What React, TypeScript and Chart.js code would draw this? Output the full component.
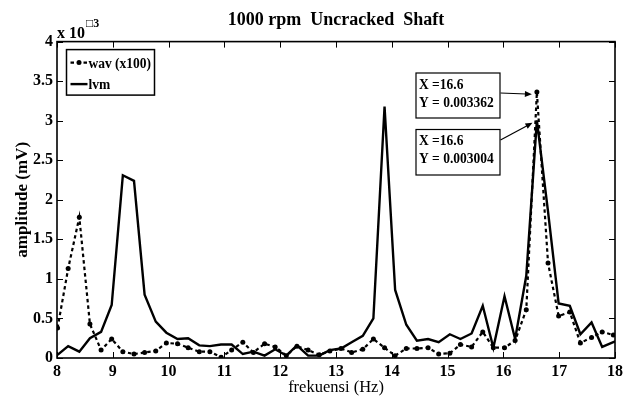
import React, { useEffect, useRef } from 'react';
import { Chart, registerables } from 'chart.js';

Chart.register(...registerables);

// ---- data (amplitude in units of 1e-3 mV) ----
const freqHz = [
  8.01, 8.20, 8.40, 8.59, 8.79, 8.98, 9.18, 9.38, 9.57, 9.77,
  9.96, 10.16, 10.35, 10.55, 10.74, 10.94, 11.13, 11.33, 11.52, 11.72,
  11.91, 12.11, 12.30, 12.50, 12.70, 12.89, 13.09, 13.28, 13.48, 13.67,
  13.87, 14.06, 14.26, 14.45, 14.65, 14.84, 15.04, 15.23, 15.43, 15.63,
  15.82, 16.02, 16.21, 16.41, 16.60, 16.80, 16.99, 17.19, 17.38, 17.58,
  17.77, 17.97, 18.16,
];
const wavX100 = [
  0.38, 1.13, 1.78, 0.43, 0.10, 0.24, 0.08, 0.05, 0.07, 0.09,
  0.19, 0.18, 0.13, 0.08, 0.08, 0.01, 0.10, 0.20, 0.07, 0.18,
  0.14, 0.03, 0.15, 0.10, 0.04, 0.09, 0.12, 0.07, 0.11, 0.24,
  0.13, 0.03, 0.12, 0.12, 0.13, 0.05, 0.06, 0.17, 0.14, 0.33,
  0.13, 0.13, 0.22, 0.61, 3.362, 1.20, 0.53, 0.58, 0.19, 0.26,
  0.33, 0.29, 0.29,
];
const lvm = [
  0.04, 0.15, 0.08, 0.25, 0.33, 0.67, 2.31, 2.24, 0.80, 0.46,
  0.32, 0.24, 0.25, 0.16, 0.15, 0.17, 0.17, 0.05, 0.08, 0.03,
  0.11, 0.03, 0.16, 0.03, 0.03, 0.10, 0.12, 0.20, 0.28, 0.50,
  3.18, 0.86, 0.42, 0.22, 0.24, 0.20, 0.30, 0.24, 0.31, 0.66,
  0.13, 0.78, 0.24, 1.04, 3.004, 1.85, 0.69, 0.66, 0.30, 0.45,
  0.14, 0.20, 0.25,
];
const xRange = [8, 18];
const yRange = [0, 4];
const chartTitle = '1000 rpm  Uncracked  Shaft';
const xTitle = 'frekuensi (Hz)';
const yTitle = 'amplitude (mV)';
const expBase = 'x 10';
const expPower = '\u25A13';
const seriesNames = ['wav (x100)', 'lvm'];
const tipX = [16.6, 16.6];
const tipY = [3.362, 3.004];
const tipText = [
  ['X =16.6', 'Y = 0.003362'],
  ['X =16.6', 'Y = 0.003004'],
];

const FAMILY = "'Liberation Serif', 'Times New Roman', serif";

function squashText(ctx: CanvasRenderingContext2D, text: string, x: number, y: number, font: string, sx = 0.9) {
  ctx.save();
  ctx.translate(x, y);
  ctx.scale(sx, 1);
  ctx.font = font;
  ctx.textAlign = 'left';
  ctx.textBaseline = 'alphabetic';
  ctx.fillText(text, 0, 0);
  ctx.restore();
}

function drawArrow(ctx: CanvasRenderingContext2D, x1: number, y1: number, x2: number, y2: number) {
  const ang = Math.atan2(y2 - y1, x2 - x1);
  const hl = 7;
  const hw = 3;
  ctx.beginPath();
  ctx.moveTo(x1, y1);
  ctx.lineTo(x2 - Math.cos(ang) * hl * 0.8, y2 - Math.sin(ang) * hl * 0.8);
  ctx.stroke();
  ctx.beginPath();
  ctx.moveTo(x2, y2);
  ctx.lineTo(x2 - Math.cos(ang) * hl - Math.sin(ang) * hw, y2 - Math.sin(ang) * hl + Math.cos(ang) * hw);
  ctx.lineTo(x2 - Math.cos(ang) * hl + Math.sin(ang) * hw, y2 - Math.sin(ang) * hl - Math.cos(ang) * hw);
  ctx.closePath();
  ctx.fill();
}

const decorPlugin = {
  id: 'decor',
  afterDatasetsDraw(chart: any) {
    const { ctx, chartArea: a, scales } = chart;
    const xs = scales.x;
    const ys = scales.y;
    ctx.save();
    ctx.strokeStyle = '#000';
    ctx.fillStyle = '#000';
    ctx.setLineDash([]);

    // inward tick marks on all four sides
    ctx.lineWidth = 1;
    ctx.beginPath();
    xs.ticks.forEach((t: any) => {
      const px = Math.round(xs.getPixelForValue(t.value)) + 0.5;
      ctx.moveTo(px, a.bottom);
      ctx.lineTo(px, a.bottom - 6);
      ctx.moveTo(px, a.top);
      ctx.lineTo(px, a.top + 6);
    });
    ys.ticks.forEach((t: any) => {
      const py = Math.round(ys.getPixelForValue(t.value)) + 0.5;
      ctx.moveTo(a.left, py);
      ctx.lineTo(a.left + 6, py);
      ctx.moveTo(a.right, py);
      ctx.lineTo(a.right - 6, py);
    });
    ctx.stroke();

    // axes box
    ctx.lineWidth = 1.6;
    ctx.strokeRect(a.left, a.top, a.right - a.left, a.bottom - a.top);

    // exponent label
    ctx.font = `bold 16px ${FAMILY}`;
    ctx.textAlign = 'left';
    ctx.textBaseline = 'alphabetic';
    ctx.fillText(expBase, a.left, a.top - 3.5);
    const w = ctx.measureText(expBase).width;
    ctx.font = `bold 12px ${FAMILY}`;
    ctx.fillText(expPower, a.left + w + 1, a.top - 15);

    // legend
    const lx = a.left + 9.5;
    const ly = a.top + 8;
    const lw = 88;
    const lh = 45.5;
    ctx.fillStyle = '#fff';
    ctx.fillRect(lx, ly, lw, lh);
    ctx.lineWidth = 1.5;
    ctx.strokeRect(lx, ly, lw, lh);
    ctx.fillStyle = '#000';
    const row1 = ly + 13;
    const row2 = ly + 34.5;
    ctx.lineWidth = 2.2;
    ctx.setLineDash([3.5, 3]);
    ctx.beginPath();
    ctx.moveTo(lx + 4, row1);
    ctx.lineTo(lx + 21, row1);
    ctx.stroke();
    ctx.setLineDash([]);
    ctx.beginPath();
    ctx.arc(lx + 12.5, row1, 2.5, 0, Math.PI * 2);
    ctx.fill();
    ctx.lineWidth = 2.4;
    ctx.beginPath();
    ctx.moveTo(lx + 4, row2);
    ctx.lineTo(lx + 21, row2);
    ctx.stroke();
    const lfont = `bold 15px ${FAMILY}`;
    squashText(ctx, seriesNames[0], lx + 22, row1 + 5, lfont);
    squashText(ctx, seriesNames[1], lx + 22, row2 + 5, lfont);

    // data tips
    const boxes = [
      { left: 416, top: 73, w: 84, h: 45, start: [500.5, 93] },
      { left: 416, top: 129.5, w: 84, h: 45.5, start: [500.5, 140] },
    ];
    boxes.forEach((b, i) => {
      ctx.fillStyle = '#fff';
      ctx.fillRect(b.left, b.top, b.w, b.h);
      ctx.lineWidth = 1.2;
      ctx.strokeStyle = '#000';
      ctx.strokeRect(b.left, b.top, b.w, b.h);
      ctx.fillStyle = '#000';
      const f = `bold 15px ${FAMILY}`;
      squashText(ctx, tipText[i][0], b.left + 3, b.top + 15.5, f);
      squashText(ctx, tipText[i][1], b.left + 3, b.top + 33.5, f);
      const tx = xs.getPixelForValue(tipX[i]);
      const ty = ys.getPixelForValue(tipY[i]);
      const dx = tx - b.start[0];
      const dy = ty - b.start[1];
      const len = Math.hypot(dx, dy);
      const ex = tx - (dx / len) * 5;
      const ey = ty - (dy / len) * 5 + (i === 0 ? 2 : 0);
      ctx.lineWidth = 1.2;
      drawArrow(ctx, b.start[0], b.start[1], ex, ey);
    });

    ctx.restore();
  },
};

export default function App() {
  const canvasRef = useRef<HTMLCanvasElement | null>(null);

  useEffect(() => {
    const canvas = canvasRef.current;
    if (!canvas) return;
    const chart = new Chart(canvas, {
      type: 'line',
      data: {
        datasets: [
          {
            label: seriesNames[0],
            data: freqHz.map((f, i) => ({ x: f, y: wavX100[i] })),
            borderColor: '#000',
            backgroundColor: '#000',
            borderWidth: 2.2,
            borderDash: [3.5, 3],
            pointRadius: 2.5,
            pointBackgroundColor: '#000',
            pointBorderWidth: 0,
            pointHoverRadius: 0,
            tension: 0,
            fill: false,
          },
          {
            label: seriesNames[1],
            data: freqHz.map((f, i) => ({ x: f, y: lvm[i] })),
            borderColor: '#000',
            backgroundColor: '#000',
            borderWidth: 2.4,
            pointRadius: 0,
            pointHoverRadius: 0,
            tension: 0,
            fill: false,
          },
        ],
      },
      options: {
        animation: false,
        responsive: false,
        maintainAspectRatio: false,
        events: [],
        layout: { padding: { left: 0, right: 21, top: 0, bottom: 0 } },
        plugins: {
          legend: { display: false },
          tooltip: { enabled: false },
          title: {
            display: true,
            text: chartTitle,
            color: '#000',
            fullSize: false,
            font: { family: FAMILY, size: 18, weight: 'bold' },
            padding: { top: 10, bottom: 10 },
          },
        },
        scales: {
          x: {
            type: 'linear',
            min: xRange[0],
            max: xRange[1],
            afterFit: (s: any) => {
              s.height = 41;
            },
            grid: { display: false, drawTicks: false },
            border: { display: false },
            ticks: {
              stepSize: 1,
              autoSkip: false,
              maxRotation: 0,
              color: '#000',
              padding: 4,
              font: { family: FAMILY, size: 16, weight: 'bold' },
              callback: (v: any) => `${Number(v)}`,
            },
            title: {
              display: true,
              text: xTitle,
              color: '#000',
              font: { family: FAMILY, size: 16.5, weight: 'normal' },
              padding: { top: 0, bottom: 1 },
            },
          },
          y: {
            type: 'linear',
            min: yRange[0],
            max: yRange[1],
            afterFit: (s: any) => {
              s.width = 57;
            },
            grid: { display: false, drawTicks: false },
            border: { display: false },
            ticks: {
              stepSize: 0.5,
              color: '#000',
              padding: 4,
              font: { family: FAMILY, size: 16, weight: 'bold' },
              callback: (v: any) => `${Number(v)}`,
            },
            title: {
              display: true,
              text: yTitle,
              color: '#000',
              font: { family: FAMILY, size: 17, weight: 'bold' },
              padding: { top: 12, bottom: 0 },
            },
          },
        },
      },
      plugins: [decorPlugin],
    } as any);
    return () => chart.destroy();
  }, []);

  return (
    <div style={{ position: 'absolute', left: 0, top: 0, width: 636, height: 399, background: '#fff' }}>
      <canvas ref={canvasRef} width={636} height={399} style={{ display: 'block' }} />
    </div>
  );
}
